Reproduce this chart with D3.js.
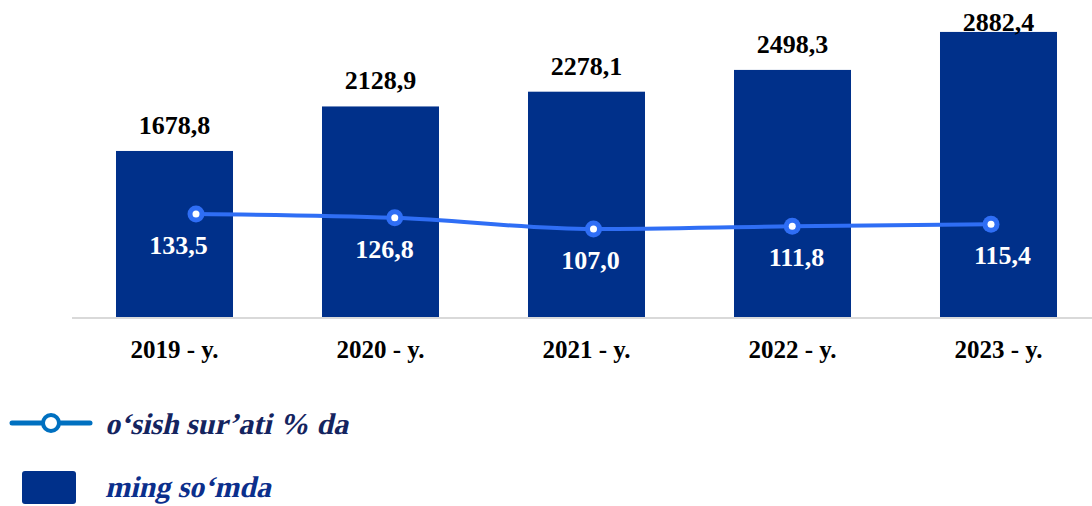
<!DOCTYPE html>
<html>
<head>
	<meta charset="utf-8">
	<title>ming so'mda / o'sish sur'ati</title>
	<style>
		body {
			margin: 0;
			background: #fff;
		}
		svg {
			display: block;
		}
		svg text {
			font-family: "Liberation Serif", "Times New Roman", serif;
		}
		.bar { fill: #00308a; }
		.barlabel { font-weight: bold; font-size: 26px; fill: #000; text-anchor: middle; }
		.ratelabel { font-weight: bold; font-size: 26px; fill: #fff; text-anchor: middle; }
		.tick text { font-family: "Liberation Serif", "Times New Roman", serif; font-weight: bold; font-size: 25px; fill: #000; }
		/* no bold italic face installed: bold serif, slanted by hand */
		.legend-text { font-family: "Liberation Serif", "Times New Roman", serif; font-weight: bold; font-size: 30px; }
	</style>
</head>
<body>
	<div id="chart"></div>

	<script src="https://cdnjs.cloudflare.com/ajax/libs/d3/7.8.5/d3.min.js"></script>
	<script>
	// Data
	var years     = ["2019 - y.", "2020 - y.", "2021 - y.", "2022 - y.", "2023 - y."]
	var amounts   = [1678.8, 2128.9, 2278.1, 2498.3, 2882.4]   // ming so'mda
	var growth    = [133.5, 126.8, 107.0, 111.8, 115.4]        // o'sish sur'ati % da
	var legendLabels = ["o\u2018sish sur\u2019ati % da", "ming so\u2018mda"]

	// Settings
	var width    = 1092,
		height   = 506,
		baseY    = 317,
		topY     = 20.3,
		barColor = "#00308a",
		lineColor = "#2f6ef5"

	var fmt = function(v){ return d3.format(".1f")(v).replace(".", ",") }

	var svg = d3.select("#chart").append("svg")
		.attr("width", width)
		.attr("height", height)

	// Scales
	var x = d3.scaleBand()
		.domain(years)
		.range([71.5, 1101.5])
		.paddingInner(0.432)
		.paddingOuter(0.216)

	var xLine = d3.scalePoint()
		.domain(years)
		.range([196, 991])

	var y = d3.scaleLinear()
		.domain([0, 3000])
		.range([baseY, topY])

	var y2 = d3.scaleLinear()
		.domain([-48.5, 475.7])
		.range([baseY, topY])

	// Bars
	svg.selectAll(".bar")
		.data(amounts)
		.enter().append("rect")
		.attr("class", "bar")
		.attr("x", function(d, i){ return x(years[i]) })
		.attr("y", function(d){ return y(d) })
		.attr("width", x.bandwidth())
		.attr("height", function(d){ return baseY - y(d) })

	// Bar values
	svg.selectAll(".barlabel")
		.data(amounts)
		.enter().append("text")
		.attr("class", "barlabel")
		.attr("x", function(d, i){ return x(years[i]) + x.bandwidth()/2 })
		.attr("y", function(d){ return Math.max(y(d) - 17, 31) })
		.text(fmt)

	// X axis
	var axis = svg.append("g")
		.attr("transform", "translate(0," + (baseY + 1) + ")")
		.call(d3.axisBottom(x).tickSize(0).tickPadding(22))
	axis.attr("font-family", null).attr("font-size", null)
	axis.select(".domain").attr("stroke", "#d9d9d9").attr("stroke-width", 2)
		.attr("d", "M72,0H" + width)

	// Growth line
	var line = d3.line()
		.x(function(d, i){ return xLine(years[i]) })
		.y(function(d){ return y2(d) })
		.curve(d3.curveMonotoneX)

	svg.append("path")
		.datum(growth)
		.attr("d", line)
		.attr("fill", "none")
		.attr("stroke", lineColor)
		.attr("stroke-width", 4)

	var pts = svg.selectAll(".pt")
		.data(growth)
		.enter().append("g")
		.attr("transform", function(d, i){ return "translate(" + xLine(years[i]) + "," + y2(d) + ")" })
	pts.append("circle").attr("r", 8.5).attr("fill", lineColor)
	pts.append("circle").attr("r", 3.5).attr("fill", "#fff")

	svg.selectAll(".ratelabel")
		.data(growth)
		.enter().append("text")
		.attr("class", "ratelabel")
		.attr("x", function(d, i){ return x(years[i]) + x.bandwidth()/2 + 4 })
		.attr("y", function(d){ return y2(d) + 40 })
		.text(fmt)

	// Legend
	var lg1 = svg.append("g").attr("transform", "translate(0,423)")
	lg1.append("line")
		.attr("x1", 12).attr("x2", 90)
		.attr("stroke", "#0070c0").attr("stroke-width", 5).attr("stroke-linecap", "round")
	lg1.append("circle")
		.attr("cx", 51).attr("r", 8)
		.attr("fill", "#fff").attr("stroke", "#0070c0").attr("stroke-width", 4)
	lg1.append("g")
		.attr("transform", "translate(105,11) skewX(-13)")
		.append("text")
		.attr("class", "legend-text")
		.attr("fill", "#14245f")
		.text(legendLabels[0])

	var lg2 = svg.append("g").attr("transform", "translate(0,487)")
	lg2.append("rect")
		.attr("x", 22).attr("y", -16)
		.attr("width", 54).attr("height", 33)
		.attr("rx", 3)
		.attr("fill", barColor)
	lg2.append("g")
		.attr("transform", "translate(105,10) skewX(-13)")
		.append("text")
		.attr("class", "legend-text")
		.attr("fill", "#0b2f8c")
		.text(legendLabels[1])
	</script>
</body>
</html>
